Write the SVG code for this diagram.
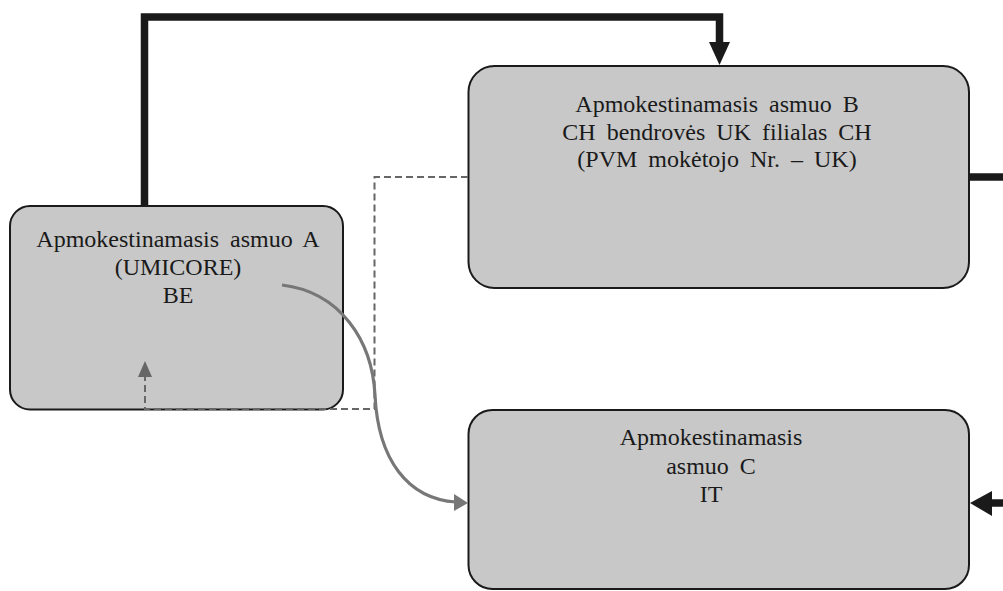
<svg xmlns="http://www.w3.org/2000/svg" width="1003" height="591" viewBox="0 0 1003 591">
<defs>
<style>
.box{fill:#c8c8c8;stroke:#1a1a1a;stroke-width:2}
.t{font-family:"Liberation Serif","Times New Roman",serif;font-size:24px;fill:#1a1a1a;text-anchor:middle;word-spacing:5px}
.thick{fill:none;stroke:#1a1a1a;stroke-width:7.5}
.dash{fill:none;stroke:#666;stroke-width:2;stroke-dasharray:7,4}
.curve{fill:none;stroke:#777;stroke-width:3.2}
</style>
</defs>
<rect width="1003" height="591" fill="#fff"/>
<g id="nodeA">
<rect class="box" x="10" y="206" width="333" height="203.5" rx="20"/>
<text class="t" x="178" y="247">Apmokestinamasis asmuo A</text>
<text class="t" x="178" y="275">(UMICORE)</text>
<text class="t" x="178" y="303">BE</text>
</g>
<g id="nodeB">
<rect class="box" x="468.5" y="66" width="500.5" height="222" rx="26"/>
<text class="t" x="717" y="112">Apmokestinamasis asmuo B</text>
<text class="t" x="717" y="140">CH bendrovės UK filialas CH</text>
<text class="t" x="717" y="167">(PVM mokėtojo Nr. – UK)</text>
</g>
<g id="nodeC">
<rect class="box" x="468.5" y="410" width="500.5" height="179" rx="24"/>
<text class="t" x="711" y="445">Apmokestinamasis</text>
<text class="t" x="711" y="474">asmuo C</text>
<text class="t" x="711" y="502">IT</text>
</g>
<g id="connectors">
<path class="thick" d="M144.5,206 V17 H719.5 V43"/>
<polygon points="709,42 730,42 719.5,65" fill="#1a1a1a"/>
<path class="thick" d="M970,177 H1003"/>
<path class="thick" d="M990,503 H1003"/>
<polygon points="970,503 992,491 992,516" fill="#1a1a1a"/>
<path class="dash" d="M468,177 H374.5 V409 H145 V377"/>
<polygon points="138,377 152,377 145,361" fill="#666"/>
<path class="curve" d="M282,285 C340,292 372,340 375,395 C378,460 408,499 456,502"/>
<polygon points="468,503 454,494 454,511" fill="#777"/>
</g>
</svg>
